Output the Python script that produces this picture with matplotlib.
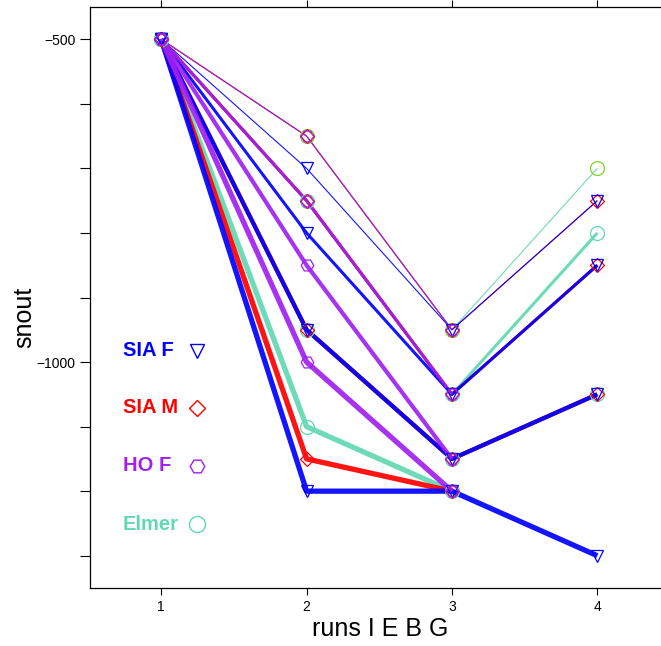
import numpy as np
import matplotlib
matplotlib.use("Agg")
import matplotlib.pyplot as plt

plt.rcParams["font.family"] = ["Liberation Sans", "DejaVu Sans"]

# data
runs = [1, 2, 3, 4]
nan = np.nan

sia_f = [
    [-500, -700, -950, -750],
    [-500, -800, -1050, -850],
    [-500, -950, -1150, -1050],
    [-500, -1200, -1200, -1300],
]
sia_m = [
    [-500, -650, -950, -750],
    [-500, -750, -1050, -850],
    [-500, -950, -1150, -1050],
    [-500, -1150, -1200, nan],
]
ho_f = [
    [-500, -650, -950, nan],
    [-500, -750, -1050, nan],
    [-500, -850, -1150, nan],
    [-500, -1000, -1200, nan],
]
elmer = [
    [-500, -650, -950, -700],
    [-500, -750, -1050, -800],
    [-500, -950, -1150, -1050],
    [-500, -1100, -1200, nan],
]

group_names = ["SIA F", "SIA M", "HO F", "Elmer"]
y_ticks = [-1300, -1200, -1100, -1000, -900, -800, -700, -600, -500]
y_ticklabels = ["", "", "", "\u22121000", "", "", "", "", "\u2212500"]

# styles
blue = "#0000ff"
red = "#ff0000"
purple = "#a020f0"
teal = "#62d8b2"
lime = "#7fd32a"
widths = [0.8, 2.2, 3.0, 3.8]

groups = {
    "SIA F": dict(data=sia_f, color=blue, marker="v", ms=9),
    "SIA M": dict(data=sia_m, color=red, marker="D", ms=7),
    "HO F": dict(data=ho_f, color=purple, marker="H", ms=9),
    "Elmer": dict(data=elmer, color=teal, marker="o", ms=10),
}
marker_colors = {"Elmer": [lime, teal, teal, teal]}

fig = plt.figure(figsize=(6.61, 6.46), dpi=100)
ax = fig.add_axes([90 / 661, 58 / 646, 580 / 661, 581 / 646])

for name in ["Elmer", "SIA M", "SIA F", "HO F"]:
    g = groups[name]
    for i, series in enumerate(g["data"]):
        mc = marker_colors.get(name, [g["color"]] * 4)[i]
        ax.plot(runs, series, color=g["color"], lw=widths[i], alpha=0.92,
                solid_capstyle="butt", zorder=2)
        ax.plot(runs, series, ls="none", marker=g["marker"], ms=g["ms"],
                mfc="none", mec=mc, mew=0.9, zorder=3)

# legend drawn as text + marker
leg_y = [0.408, 0.310, 0.210, 0.110]
for name, yy in zip(group_names, leg_y):
    g = groups[name]
    ax.text(0.057, yy, name, transform=ax.transAxes, color=g["color"],
            fontsize=14.5, fontweight="bold", va="center", ha="left")
    ax.plot([0.184], [yy], transform=ax.transAxes, ls="none",
            marker=g["marker"], ms=g["ms"] + 1.5, mfc="none",
            mec=g["color"], mew=1.0)

ax.set_xlim(0.51, 4.5)
ax.set_ylim(-1350, -450)
ax.set_xticks(runs)
ax.set_xticklabels([str(r) for r in runs], fontsize=10)
ax.set_yticks(y_ticks)
ax.set_yticklabels(y_ticklabels, fontsize=10)
ax.tick_params(direction="out", top=True, right=True, length=5, width=0.8)
ax.tick_params(axis="y", length=7)

for s in ax.spines.values():
    s.set_linewidth(0.9)

ax.set_xlabel("runs I E B G", fontsize=18)
ax.set_ylabel("snout", fontsize=18)
ax.xaxis.set_label_coords(0.5, -0.05)
ax.yaxis.set_label_coords(-0.092, 0.465)

fig.savefig("out.png", dpi=100)
